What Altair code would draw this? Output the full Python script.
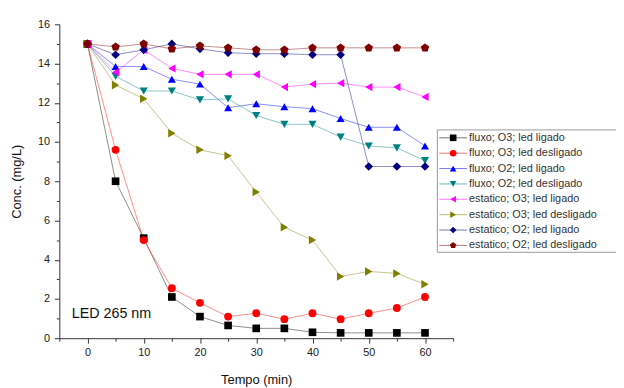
import altair as alt
import pandas as pd

tempo = [0, 5, 10, 15, 20, 25, 30, 35, 40, 45, 50, 55, 60]

series_names = [
    "fluxo; O3; led ligado",
    "fluxo; O3; led desligado",
    "fluxo; O2; led ligado",
    "fluxo; O2; led desligado",
    "estatico; O3; led ligado",
    " estatico; O3; led desligado",
    "estatico; O2; led ligado",
    "estatico; O2; led desligado",
]

fluxo_O3_ligado = [15.0, 8.0, 5.1, 2.1, 1.1, 0.65, 0.5, 0.5, 0.3, 0.27, 0.27, 0.27, 0.27]
fluxo_O3_desligado = [15.0, 9.6, 5.0, 2.55, 1.8, 1.1, 1.27, 0.97, 1.27, 0.97, 1.27, 1.54, 2.1]
fluxo_O2_ligado = [15.0, 13.85, 13.85, 13.2, 12.95, 11.75, 11.95, 11.8, 11.7, 11.2, 10.75, 10.75, 9.8]
fluxo_O2_desligado = [15.0, 13.35, 12.6, 12.6, 12.15, 12.2, 11.35, 10.9, 10.9, 10.25, 9.8, 9.7, 9.05]
estatico_O3_ligado = [15.0, 13.55, 14.7, 13.75, 13.45, 13.45, 13.45, 12.8, 12.95, 13.0, 12.8, 12.8, 12.3]
estatico_O3_desligado = [15.0, 12.9, 12.2, 10.45, 9.6, 9.3, 7.45, 5.65, 5.0, 3.15, 3.4, 3.3, 2.75]
estatico_O2_ligado = [15.0, 14.45, 14.7, 15.0, 14.75, 14.55, 14.5, 14.5, 14.45, 14.45, 8.75, 8.75, 8.75]
estatico_O2_desligado = [15.0, 14.85, 15.0, 14.75, 14.9, 14.8, 14.7, 14.7, 14.8, 14.8, 14.8, 14.8, 14.8]

all_series = [
    fluxo_O3_ligado, fluxo_O3_desligado, fluxo_O2_ligado, fluxo_O2_desligado,
    estatico_O3_ligado, estatico_O3_desligado, estatico_O2_ligado, estatico_O2_desligado,
]

colors = ["#000000", "#ff0000", "#0000ff", "#008080", "#ff00ff", "#808000", "#000080", "#800000"]

pentagon = "M0,-1L0.951,-0.309L0.588,0.809L-0.588,0.809L-0.951,-0.309Z"
shapes = ["square", "circle", "triangle-up", "triangle-down", "triangle-left",
          "triangle-right", "diamond", pentagon]
sizes = [60, 80, 85, 85, 85, 85, 88, 80]

x_tick_values = [-5, 0, 5, 10, 15, 20, 25, 30, 35, 40, 45, 50, 55, 60, 65]
y_tick_values = [0, 1, 2, 3, 4, 5, 6, 7, 8, 9, 10, 11, 12, 13, 14, 15, 16]

annot_text = ["LED 265 nm"]
annot_x = [-2.8]
annot_y = [1.25]

rows = []
for i, (name, vals) in enumerate(zip(series_names, all_series)):
    for t, v in zip(tempo, vals):
        rows.append({"tempo": t, "conc": v, "serie": name, "ordem": i})
df = pd.DataFrame(rows)
df_annot = pd.DataFrame({"x": annot_x, "y": annot_y, "txt": annot_text})
df_leg = pd.DataFrame({"serie": series_names, "serie_leg": series_names})
df_box = pd.DataFrame({"box": [1]})

x_scale = alt.Scale(domain=[-5, 65], nice=False, zero=False)
y_scale = alt.Scale(domain=[0, 16], nice=False)

x_axis = alt.Axis(
    values=x_tick_values,
    labelExpr="datum.value % 10 === 0 ? datum.label : ''",
    labelOverlap=False,
    tickSize={"condition": {"test": "datum.value % 10 === 0", "value": 5}, "value": 3},
    title="Tempo (min)", labelPadding=4, titlePadding=16,
)
y_axis = alt.Axis(
    values=y_tick_values,
    labelExpr="datum.value % 2 === 0 ? datum.label : ''",
    labelOverlap=False,
    tickSize={"condition": {"test": "datum.value % 2 === 0", "value": 5}, "value": 3},
    title="Conc. (mg/L)", labelPadding=5, titlePadding=14,
)

color_main = alt.Color("serie:N", scale=alt.Scale(domain=series_names, range=colors), legend=None)
shape_main = alt.Shape("serie:N", scale=alt.Scale(domain=series_names, range=shapes), legend=None)

base = alt.Chart(df)

lines = base.mark_line(strokeWidth=1, opacity=0.45).encode(
    x=alt.X("tempo:Q", scale=x_scale, axis=x_axis),
    y=alt.Y("conc:Q", scale=y_scale, axis=y_axis),
    color=color_main,
    detail="serie:N",
)

points = base.mark_point(filled=True, opacity=1).encode(
    x=alt.X("tempo:Q", scale=x_scale, axis=x_axis),
    y=alt.Y("conc:Q", scale=y_scale, axis=y_axis),
    color=color_main,
    shape=shape_main,
    size=alt.Size("serie:N", scale=alt.Scale(domain=series_names, range=sizes), legend=None),
    order=alt.Order("ordem:Q"),
)

annot = alt.Chart(df_annot).mark_text(
    align="left", baseline="middle", fontSize=14.5, font="Liberation Sans", color="#111111"
).encode(
    x=alt.X("x:Q", scale=x_scale, axis=x_axis),
    y=alt.Y("y:Q", scale=y_scale, axis=y_axis),
    text="txt:N",
)

main = alt.layer(lines, points, annot)

# legend drawn with its own point scale for the rows
leg_y = alt.Y("serie_leg:N", scale=alt.Scale(type="point", domain=series_names, range=[115, 224], padding=0), axis=None)

leg_box = alt.Chart(df_box).mark_rect(fill="#ffffff", stroke="#999999", strokeWidth=1).encode(
    x=alt.value(383), x2=alt.value(640), y=alt.value(107), y2=alt.value(231)
)
leg_lines = alt.Chart(df_leg).mark_rule(strokeWidth=1, opacity=0.55).encode(
    x=alt.value(385), x2=alt.value(413), y=leg_y, color=color_main
)
leg_pts = alt.Chart(df_leg).mark_point(filled=True, opacity=1, size=45).encode(
    x=alt.value(399), y=leg_y, color=color_main, shape=shape_main
)
leg_txt = alt.Chart(df_leg).mark_text(
    align="left", baseline="middle", fontSize=11, font="Liberation Sans", color="#333333"
).encode(
    x=alt.value(415), y=leg_y, text="serie_leg:N"
)
legend_layer = alt.layer(leg_box, leg_lines, leg_pts, leg_txt)

chart = alt.layer(main, legend_layer).resolve_scale(
    y="independent"
).properties(
    width=399, height=318,
    autosize=alt.AutoSizeParams(type="none"),
    padding={"left": 52, "top": 14, "right": 165, "bottom": 52},
).configure_view(stroke=None).configure_axis(
    grid=False, domainColor="#333333", tickColor="#333333", labelOverlap=False,
    labelFont="Liberation Sans", labelFontSize=11, labelColor="#222222",
    titleFont="Liberation Sans", titleFontSize=13, titleFontWeight="normal", titleColor="#111111",
)

chart.save("out.html", embed_options={"renderer": "svg", "actions": False})
